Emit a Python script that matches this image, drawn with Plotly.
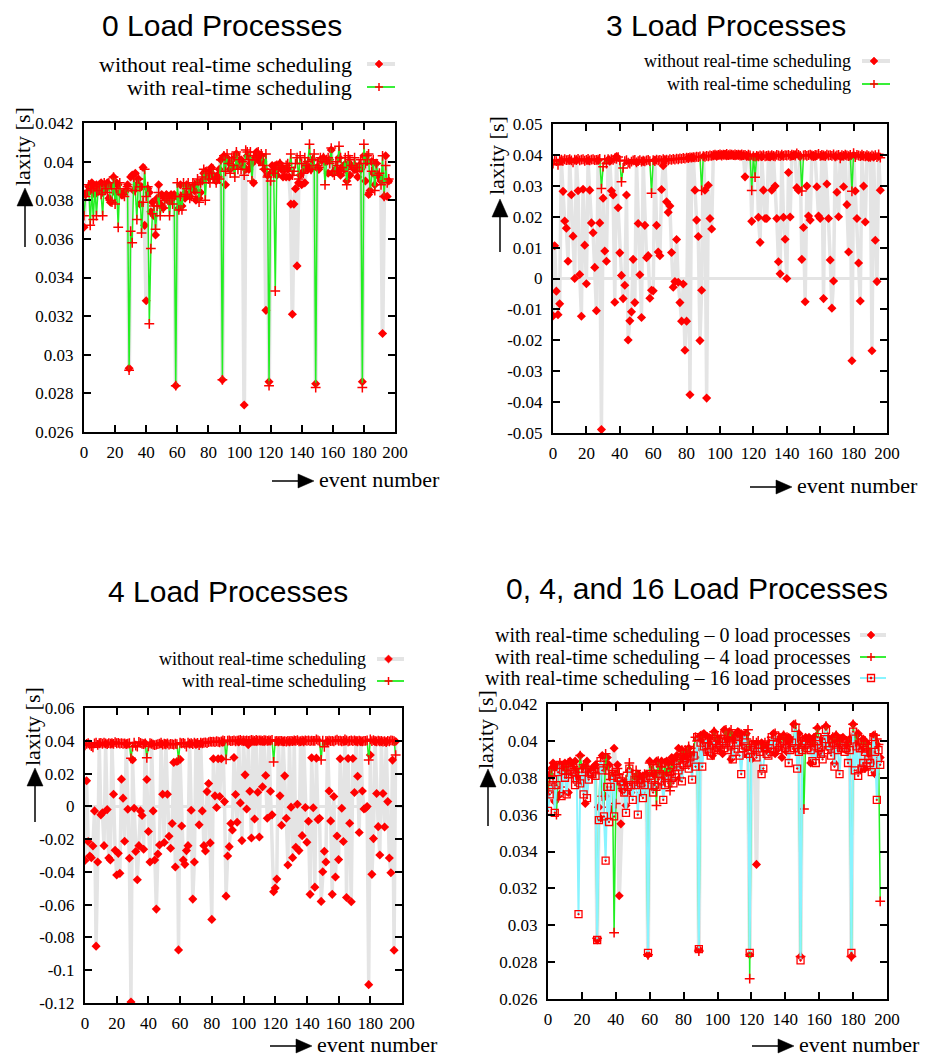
import plotly.graph_objects as go

# ---------------- data (laxity in milliseconds, event index 0..196) ----------------
events = list(range(197))

# Panel "0 Load Processes"
load0_without_rt = [
    36.6, 38.3, 38.4, 38.7, 38.5, 38.9, 38.6, 38.3, 38.8, 38.7,
    38.5, 38.9, 38.4, 38.8, 38.6, 38.9, 38.1, 37.9, 38.7, 39.2,
    38.4, 38.9, 38.8, 38.4, 38.3, 38.3, 38.4, 38.5, 38.8, 29.3,
    39.2, 39.3, 38.5, 39.4, 38.8, 39.1, 37.8, 38.7, 39.7, 36.7,
    32.8, 38.6, 38.4, 37.4, 37.9, 37.2, 36.2, 38.1, 38.8, 37.8,
    38.3, 37.6, 38.1, 38.3, 38.2, 37.9, 38.3, 38.1, 38.3, 28.4,
    38.2, 37.6, 38.8, 37.7, 38.3, 38.1, 38.8, 38.3, 38.2, 38.6,
    38.7, 38.5, 38.0, 38.9, 38.1, 38.4, 39.0, 39.4, 39.5, 39.2,
    39.3, 39.5, 39.7, 39.3, 39.2, 39.0, 39.3, 39.6, 40.1, 28.7,
    40.3, 38.8, 40.2, 40.0, 39.6, 39.8, 39.7, 40.2, 40.4, 39.8,
    39.9, 40.1, 39.8, 27.4, 39.6, 40.3, 39.6, 39.9, 39.9, 38.9,
    40.2, 40.5, 40.2, 40.0, 40.3, 40.0, 39.6, 32.3, 39.3, 28.6,
    39.4, 39.8, 39.5, 39.8, 39.3, 39.8, 39.9, 39.6, 39.2, 39.6,
    39.2, 39.6, 39.2, 37.8, 32.1, 37.8, 38.6, 34.6, 38.9, 39.3,
    38.8, 39.5, 38.9, 39.8, 39.6, 39.7, 39.6, 40.1, 39.7, 28.5,
    39.7, 39.6, 40.1, 40.1, 40.2, 40.0, 40.0, 39.4, 40.1, 40.6,
    39.4, 39.5, 39.6, 39.5, 40.2, 39.3, 39.7, 39.8, 39.6, 39.0,
    39.9, 39.3, 39.8, 39.7, 39.6, 39.6, 39.2, 39.8, 39.6, 28.6,
    40.3, 39.0, 40.0, 38.3, 38.5, 40.0, 39.4, 38.8, 39.9, 39.3,
    39.2, 39.0, 31.1, 38.2, 40.3, 38.2, 39.0,
]
load0_with_rt = [
    37.2, 38.2, 38.5, 38.8, 36.7, 38.6, 37.0, 38.7, 37.2, 38.5,
    38.8, 38.3, 37.2, 38.9, 38.6, 38.4, 38.9, 38.0, 37.9, 39.2,
    37.8, 38.6, 36.6, 38.9, 38.3, 38.3, 38.2, 38.6, 38.7, 29.2,
    36.4, 35.8, 39.2, 38.5, 37.0, 39.1, 38.7, 36.3, 37.9, 39.6,
    38.2, 38.7, 31.6, 35.5, 37.3, 37.7, 36.5, 37.7, 38.4, 37.2,
    37.7, 37.6, 38.0, 38.2, 38.1, 37.2, 38.1, 37.8, 38.2, 28.4,
    38.9, 37.5, 38.2, 37.5, 38.9, 38.3, 38.6, 38.9, 38.1, 38.2,
    38.9, 38.8, 38.4, 39.1, 37.9, 38.9, 39.2, 39.6, 38.0, 39.5,
    39.1, 38.9, 39.4, 39.6, 39.1, 38.9, 39.2, 39.1, 40.1, 28.7,
    40.3, 39.5, 40.4, 39.9, 39.4, 40.2, 39.8, 39.2, 40.5, 39.6,
    40.1, 39.6, 40.0, 39.3, 40.6, 40.5, 40.1, 40.5, 39.0, 40.3,
    40.1, 40.2, 40.5, 40.3, 40.4, 39.8, 39.6, 40.4, 39.2, 28.4,
    39.0, 39.6, 39.4, 33.3, 39.8, 39.6, 39.9, 39.7, 39.6, 39.5,
    39.8, 39.9, 39.7, 40.4, 39.3, 39.5, 39.9, 40.2, 39.1, 40.3,
    39.9, 39.4, 40.2, 39.8, 40.0, 40.9, 39.6, 40.1, 40.4, 28.3,
    39.8, 39.7, 40.2, 40.0, 40.2, 38.8, 40.1, 40.2, 39.9, 40.7,
    39.5, 39.3, 40.0, 39.8, 40.8, 40.2, 39.7, 39.5, 40.2, 38.8,
    40.3, 40.1, 39.8, 39.6, 40.2, 39.7, 39.5, 39.9, 40.1, 28.3,
    40.9, 39.9, 40.3, 40.4, 38.4, 39.5, 40.1, 38.5, 39.9, 39.3,
    39.4, 38.8, 40.3, 38.2, 39.8, 38.9, 39.1,
]

# Panel "3 Load Processes"
load3_without_rt = [
    -12.1, 10.6, -4.1, -11.7, -8.2, 38.1, 28.2, 18.6, 16.3, 5.6,
    38.2, 27.1, 13.7, 0.0, 38.3, 28.4, 1.3, -12.2, 28.9, 10.8,
    -1.7, 38.1, 28.6, 18.0, 14.8, 3.6, -10.4, 38.2, 18.0, -48.9,
    26.0, 8.9, 5.6, 38.4, 38.0, 28.4, 27.0, -7.7, 39.5, 22.9,
    8.3, 1.0, -6.5, -2.2, 27.0, -19.9, -13.7, -10.8, 6.2, -7.8,
    37.6, 17.8, 1.2, -12.6, 38.0, 17.2, 6.7, 7.4, -6.4, -3.8,
    -4.0, 38.3, 17.2, 8.6, 7.4, 28.8, 36.5, 38.3, 24.8, 21.4,
    23.5, 8.4, -2.8, -1.0, 12.6, -1.2, -7.8, -13.8, -1.8, -23.2,
    -13.8, 39.0, -37.6, 39.2, 39.1, 28.6, 18.9, 13.6, -20.1, -3.8,
    39.5, 28.6, -38.7, 30.2, 19.4, 16.0, 39.7, 39.9, 39.6, 40.0,
    39.8, 40.1, 39.9, 40.2, 39.7, 40.0, 39.8, 40.1, 39.9, 39.7,
    40.0, 39.8, 40.1, 39.6, 39.9, 32.9, 39.7, 39.5, 39.4, 18.5,
    39.5, 39.2, 39.6, 19.8, 11.7, 39.4, 28.6, 19.4, 19.4, 39.5,
    39.3, 28.6, 39.6, 29.9, 19.4, 5.4, 1.5, 39.7, 19.8, 12.7,
    0.0, 34.3, 19.9, 39.6, 39.8, 40.0, 29.4, 28.6, 39.5, 6.2,
    16.5, -7.5, 29.9, 20.2, 18.9, 39.7, 39.8, 39.5, 29.7, 20.2,
    19.4, 39.6, -6.5, 39.7, 30.6, 19.4, 6.0, -9.6, -0.8, 39.4,
    27.9, 20.0, 39.6, 39.5, 29.7, 39.8, 23.9, 8.6, 39.4, -26.6,
    39.9, 28.3, 19.4, 5.0, -7.3, 39.6, 29.9, 18.3, 39.5, 39.2,
    39.4, -23.4, 39.3, 12.4, -1.0, 39.5, 28.6,
]
load3_with_rt = [
    37.2, 38.3, 38.0, 36.8, 38.2, 38.5, 38.1, 38.6, 38.3, 38.4,
    38.6, 38.2, 37.6, 38.5, 38.3, 38.7, 38.2, 38.5, 38.6, 38.1,
    38.4, 38.7, 38.2, 38.5, 38.6, 38.3, 38.4, 38.5, 38.7, 29.1,
    36.2, 38.5, 37.2, 38.6, 38.2, 38.6, 38.4, 38.9, 38.7, 39.3,
    38.2, 31.3, 35.8, 38.0, 38.3, 37.5, 37.2, 37.8, 38.2, 38.4,
    37.6, 38.0, 38.3, 37.8, 38.1, 37.9, 38.2, 38.4, 38.0, 27.6,
    38.3, 38.0, 38.5, 38.2, 38.4, 38.1, 38.6, 38.3, 38.5, 38.2,
    38.6, 38.4, 38.7, 38.5, 38.8, 38.6, 38.9, 38.7, 39.0, 38.8,
    39.1, 39.0, 39.2, 39.1, 39.3, 39.2, 39.4, 39.3, 39.5, 28.5,
    39.6, 39.4, 39.7, 39.5, 39.8, 39.7, 39.9, 40.1, 39.8, 40.0,
    40.2, 39.8, 40.1, 40.0, 40.3, 39.9, 40.2, 40.1, 39.9, 40.2,
    40.0, 40.1, 39.8, 40.2, 39.9, 40.0, 39.7, 40.1, 39.8, 28.5,
    39.6, 32.8, 39.7, 39.5, 39.8, 39.6, 39.9, 39.5, 39.7, 39.8,
    39.6, 39.9, 39.7, 39.5, 40.0, 39.8, 39.6, 40.1, 39.7, 39.9,
    39.8, 40.0, 39.7, 40.1, 39.9, 39.8, 40.5, 40.0, 39.7, 28.3,
    39.8, 40.0, 39.7, 39.9, 40.1, 39.8, 39.6, 40.0, 39.9, 40.3,
    39.7, 40.0, 39.8, 39.6, 40.1, 39.8, 39.9, 39.7, 40.2, 39.5,
    39.8, 40.0, 38.9, 39.9, 39.7, 40.1, 39.8, 39.6, 40.0, 28.2,
    40.6, 39.3, 40.0, 39.8, 39.6, 40.1, 39.7, 39.5, 39.9, 39.6,
    39.4, 39.8, 39.5, 39.9, 39.3, 40.2, 39.1,
]

# Panel "4 Load Processes"
load4_without_rt = [
    -33.0, 15.6, -21.5, -30.3, -31.3, -24.2, -2.8, -85.3, -34.0, 38.0,
    -5.2, -4.0, -24.0, 38.2, -2.0, -31.5, -32.7, 38.3, 7.4, -26.8,
    -41.9, -28.7, -40.9, 16.6, 5.0, -21.3, 38.1, -1.8, -31.7, -119.4,
    28.4, -1.2, -27.6, -44.8, -24.0, -2.8, -5.6, -26.2, 38.5, 16.4,
    -15.4, -34.0, 38.2, -2.8, -32.7, -62.7, -29.1, -23.6, 38.0, 7.4,
    -22.1, 38.3, 7.4, -18.3, -25.6, -10.5, 26.8, -37.0, 27.4, -87.6,
    28.6, -12.0, -32.7, -35.4, -27.0, -24.0, 38.2, -2.4, -56.6, -34.0,
    38.1, 38.3, -11.3, 38.4, -2.8, -24.0, -27.2, 9.0, 13.9, -22.3,
    -69.0, 29.0, 6.4, -0.7, 29.0, 6.0, 29.0, 39.0, 2.9, -54.8,
    -30.3, -24.6, -10.5, -14.4, 29.8, 7.2, -9.7, 39.3, 2.1, -20.9,
    39.5, 19.2, -1.6, 37.6, 9.2, -19.3, 39.6, -7.7, 39.5, 8.6,
    -18.7, 39.8, 11.9, 39.4, 18.8, -7.3, 39.7, 9.2, -5.2, -52.1,
    -49.9, -44.4, 39.6, 6.4, -11.5, 39.5, 18.6, -7.3, -35.8, 39.4,
    -0.5, -31.3, 39.8, -25.0, 1.3, -27.0, 39.5, -17.9, 39.7, -0.7,
    -21.9, -9.1, -53.7, 29.6, -0.9, -49.3, 29.4, -8.1, -7.3, -58.0,
    -39.9, -27.4, -34.0, 39.5, 9.4, -8.9, -53.7, 6.0, -43.1, -18.1,
    -32.5, 29.0, -1.2, -21.5, 39.6, -55.6, 29.2, -10.3, -58.2, 29.2,
    8.4, 39.7, 18.4, -16.0, 39.5, 9.4, -1.6, -1.2, -0.1, -108.8,
    31.3, -41.5, -19.7, 39.6, 7.8, -12.4, -29.7, 39.5, 7.8, -12.6,
    39.4, 2.9, -31.5, -40.5, 28.2, -87.8, 39.6,
]
load4_with_rt = [
    37.2, 38.1, 38.5, 37.6, 36.8, 36.0, 38.4, 38.8, 37.5, 38.6,
    38.7, 38.2, 38.8, 38.4, 38.0, 38.6, 38.3, 38.5, 38.1, 39.2,
    38.5, 38.7, 38.3, 38.6, 38.2, 38.4, 38.0, 38.3, 38.5, 29.3,
    36.4, 38.9, 37.0, 36.4, 39.3, 38.7, 38.2, 37.9, 38.4, 29.6,
    36.6, 38.5, 38.2, 37.7, 37.4, 37.6, 37.9, 38.3, 38.8, 37.6,
    38.2, 37.8, 38.4, 37.7, 38.1, 38.0, 37.6, 38.2, 37.9, 28.4,
    38.8, 38.4, 38.7, 38.2, 36.5, 38.9, 38.3, 38.6, 37.9, 38.8,
    38.2, 38.7, 37.3, 38.9, 38.5, 38.8, 39.0, 38.6, 39.2, 39.5,
    39.3, 39.5, 39.2, 39.7, 39.4, 39.1, 39.6, 40.2, 40.0, 28.6,
    40.1, 40.3, 39.8, 40.0, 40.2, 39.7, 40.1, 40.3, 40.5, 39.9,
    40.2, 40.0, 40.3, 39.9, 40.1, 40.6, 40.2, 40.0, 40.6, 40.1,
    40.2, 40.3, 39.9, 40.4, 40.2, 40.0, 40.3, 40.1, 40.6, 27.1,
    39.8, 40.0, 39.7, 39.9, 40.0, 39.6, 39.8, 39.5, 39.9, 39.7,
    40.0, 39.8, 40.2, 39.9, 40.4, 39.6, 39.8, 40.1, 39.7, 40.3,
    39.9, 40.2, 39.8, 40.1, 39.9, 40.0, 40.9, 40.2, 39.8, 28.3,
    40.1, 36.3, 40.0, 39.7, 40.1, 39.8, 40.0, 39.6, 40.2, 40.7,
    39.9, 40.1, 39.7, 40.0, 40.8, 40.2, 39.6, 39.9, 40.2, 39.8,
    40.3, 40.0, 39.7, 40.1, 39.8, 39.6, 40.0, 39.9, 40.2, 28.3,
    40.9, 39.8, 40.4, 40.0, 39.6, 40.1, 39.7, 40.0, 39.5, 39.8,
    39.2, 39.9, 39.6, 40.3, 40.1, 39.8, 31.3,
]

# Panel "0, 4, and 16 Load Processes" (0 and 4 load reuse the series above)
load16_with_rt = [
    36.2, 37.1, 37.6, 37.9, 36.1, 37.6, 38.3, 38.7, 37.0, 38.4,
    38.0, 37.1, 38.2, 38.6, 38.4, 38.3, 37.6, 37.9, 30.6, 37.7,
    38.3, 37.1, 38.5, 36.9, 37.9, 38.3, 38.2, 38.4, 38.1, 29.2,
    35.7, 38.9, 38.4, 35.9, 33.5, 37.5, 35.6, 37.5, 38.1, 35.9,
    38.3, 38.0, 38.0, 37.8, 37.6, 37.2, 36.1, 37.5, 38.5, 37.6,
    36.8, 37.9, 37.6, 36.0, 37.9, 37.7, 36.9, 37.6, 38.0, 28.5,
    38.1, 37.9, 37.2, 37.6, 37.5, 37.9, 38.2, 37.8, 36.8, 37.6,
    38.1, 37.7, 38.3, 38.0, 37.7, 38.2, 38.9, 38.4, 38.6, 37.8,
    38.7, 39.0, 38.8, 38.5, 39.1, 37.9, 39.2, 38.6, 40.2, 28.7,
    39.9, 38.6, 39.7, 40.1, 39.4, 39.7, 39.2, 39.8, 40.0, 39.5,
    39.6, 39.8, 39.5, 40.1, 39.6, 39.9, 39.5, 39.8, 39.7, 39.0,
    39.4, 39.9, 40.2, 39.2, 38.2, 39.6, 40.3, 39.7, 39.3, 28.5,
    39.5, 39.8, 39.6, 39.1, 39.8, 39.4, 38.2, 38.5, 39.6, 39.3,
    39.2, 39.6, 40.2, 39.4, 40.3, 39.8, 39.5, 39.9, 39.7, 40.0,
    39.6, 39.8, 38.8, 39.5, 39.9, 39.6, 40.7, 38.5, 39.4, 28.1,
    39.5, 40.0, 39.8, 39.6, 39.9, 39.5, 38.9, 39.7, 38.8, 40.2,
    39.6, 39.3, 39.0, 40.1, 40.6, 39.5, 39.7, 39.2, 39.9, 38.6,
    39.8, 39.5, 38.2, 39.6, 39.9, 39.4, 39.6, 38.8, 39.5, 28.5,
    40.5, 38.4, 39.7, 38.1, 39.6, 38.5, 38.8, 39.4, 38.6, 39.0,
    38.8, 38.3, 40.2, 39.4, 36.8, 39.5, 38.7,
]

# tick labels
x_tick_labels = ["0", "20", "40", "60", "80", "100", "120", "140", "160", "180", "200"]
y_ticks_small = ["0.026", "0.028", "0.03", "0.032", "0.034", "0.036", "0.038", "0.04", "0.042"]
y_ticks_3load = ["-0.05", "-0.04", "-0.03", "-0.02", "-0.01", "0", "0.01", "0.02", "0.03", "0.04", "0.05"]
y_ticks_4load = ["-0.12", "-0.1", "-0.08", "-0.06", "-0.04", "-0.02", "0", "0.02", "0.04", "0.06"]

titles = ["0 Load Processes", "3 Load Processes", "4 Load Processes", "0, 4, and 16 Load Processes"]
legend_2 = ["without real-time scheduling", "with real-time scheduling"]
legend_4 = ["with real-time scheduling – 0 load processes",
            "with real-time scheduling – 4 load processes",
            "with real-time scheduling – 16 load processes"]

# ---------------- style ----------------
W, H = 932, 1059
RED = "#ff0000"
GRAY = "#e4e4e4"
GREEN = "#22ee22"
CYAN = "#88f4ff"
SERIF = "Liberation Serif, Times New Roman, Times, serif"
SANS = "Liberation Sans, Arial, Helvetica, sans-serif"

def fx(p):
    return p / W

def fy(p):
    return 1 - p / H

fig = go.Figure()

def to_s(vals):
    return [v / 1000.0 for v in vals]

MK = {
    "diamond": dict(symbol="diamond", size=7, color=RED, line=dict(width=0)),
    "plus": dict(symbol="cross-thin", size=7, color=RED, line=dict(color=RED, width=1.5)),
    "square": dict(symbol="square-open-dot", size=7, color=RED, line=dict(color=RED, width=1.3)),
}

def series(ax, vals, color, width, mk):
    fig.add_trace(go.Scatter(
        x=events[:len(vals)], y=to_s(vals), mode="lines+markers",
        xaxis="x" + ax, yaxis="y" + ax,
        line=dict(color=color, width=width), marker=MK[mk],
        showlegend=False, hoverinfo="skip"))

series("", load0_without_rt, GRAY, 4, "diamond")
series("", load0_with_rt, GREEN, 1.5, "plus")
series("2", load3_without_rt, GRAY, 3.5, "diamond")
series("2", load3_with_rt, GREEN, 1.5, "plus")
series("3", load4_without_rt, GRAY, 3.5, "diamond")
series("3", load4_with_rt, GREEN, 1.5, "plus")
series("4", load0_with_rt, GRAY, 4, "diamond")
series("4", load4_with_rt, GREEN, 1.5, "plus")
series("4", load16_with_rt, CYAN, 2, "square")

# panel rectangles (left, right, top, bottom) in pixels
boxes = {
    "": (84, 395, 123, 432),
    "2": (553, 887, 124, 433),
    "3": (85, 402, 708, 1003),
    "4": (548, 887, 704, 999),
}
ylabels = {"": y_ticks_small, "2": y_ticks_3load, "3": y_ticks_4load, "4": y_ticks_small}

axis_common = dict(showline=True, linewidth=2, linecolor="black", mirror="allticks",
                   ticks="inside", ticklen=7, tickwidth=2, tickcolor="black",
                   showgrid=False, fixedrange=True, automargin=False,
                   tickfont=dict(family=SERIF, size=17, color="black"))
layout = {}
for ax, (l, r, t, b) in boxes.items():
    xt = [float(s) for s in x_tick_labels]
    yl = ylabels[ax]
    yt = [float(s) for s in yl]
    has_zero = yt[0] < 0 < yt[-1]
    layout["xaxis" + ax] = dict(domain=[fx(l), fx(r)], anchor="y" + ax, range=[0, 200],
                                tickvals=xt, ticktext=x_tick_labels, zeroline=False,
                                ticklabelstandoff=4, **axis_common)
    layout["yaxis" + ax] = dict(domain=[fy(b), fy(t)], anchor="x" + ax, range=[yt[0], yt[-1]],
                                tickvals=yt, ticktext=yl, zeroline=has_zero,
                                zerolinecolor=GRAY, zerolinewidth=3,
                                ticklabelstandoff=5, **axis_common)

annotations = []
shapes = []

def text(x, y, s, size, family=SERIF, xanchor="center", angle=0):
    annotations.append(dict(x=fx(x), y=fy(y), xref="paper", yref="paper", text=s, showarrow=False,
                            xanchor=xanchor, yanchor="middle", textangle=angle,
                            font=dict(family=family, size=size, color="black")))

def pline(x0, y0, x1, y1, color, width):
    shapes.append(dict(type="line", xref="paper", yref="paper", x0=fx(x0), y0=fy(y0),
                       x1=fx(x1), y1=fy(y1), line=dict(color=color, width=width)))

def ppath(pts, color):
    d = "M " + " L ".join(f"{fx(a):.5f},{fy(b):.5f}" for a, b in pts) + " Z"
    shapes.append(dict(type="path", xref="paper", yref="paper", path=d,
                       fillcolor=color, line=dict(color=color, width=0.5)))

# titles
text(222, 25, titles[0], 30, SANS)
text(726, 25, titles[1], 30, SANS)
text(228, 591, titles[2], 30, SANS)
text(697, 588, titles[3], 30, SANS)

# legend keys (sample line plus point symbol)
def key(x1, x2, y, color, width, mk):
    pline(x1, y, x2, y, color, width)
    cx = (x1 + x2) / 2 - 2
    if mk == "diamond":
        ppath([(cx, y - 4), (cx + 4, y), (cx, y + 4), (cx - 4, y)], RED)
    elif mk == "plus":
        pline(cx - 4, y, cx + 4, y, RED, 1.5)
        pline(cx, y - 4, cx, y + 4, RED, 1.5)
    else:
        shapes.append(dict(type="rect", xref="paper", yref="paper", x0=fx(cx - 3.5), x1=fx(cx + 3.5),
                           y0=fy(y + 3.5), y1=fy(y - 3.5), line=dict(color=RED, width=1.3)))
        ppath([(cx - 1, y - 1), (cx + 1, y - 1), (cx + 1, y + 1), (cx - 1, y + 1)], RED)

text(354, 64, legend_2[0], 22, xanchor="right")
text(354, 87, legend_2[1], 22, xanchor="right")
key(367, 395, 64, GRAY, 4, "diamond")
key(367, 395, 87, GREEN, 1.8, "plus")

text(853, 61, legend_2[0], 18, xanchor="right")
text(853, 84, legend_2[1], 18, xanchor="right")
key(862, 890, 61, GRAY, 4, "diamond")
key(862, 890, 84, GREEN, 1.8, "plus")

text(368, 659, legend_2[0], 18, xanchor="right")
text(368, 681, legend_2[1], 18, xanchor="right")
key(377, 404, 659, GRAY, 4, "diamond")
key(377, 404, 681, GREEN, 1.8, "plus")

text(853, 635, legend_4[0], 20, xanchor="right")
text(853, 657, legend_4[1], 20, xanchor="right")
text(853, 678, legend_4[2], 20, xanchor="right")
key(860, 886, 635, GRAY, 4, "diamond")
key(860, 886, 657, GREEN, 1.8, "plus")
key(860, 886, 678, CYAN, 2, "square")

# axis labels with arrows
def up_label(x, y_text, tip, bottom):
    text(x - 3, y_text, "laxity [s]", 22, angle=-90)
    pline(x, bottom, x, tip + 14, "black", 1.5)
    ppath([(x, tip), (x - 8, tip + 18), (x + 8, tip + 18)], "black")

def right_label(x0, y):
    tip = x0 + 42
    pline(x0, y, tip - 14, y, "black", 1.5)
    ppath([(tip, y), (tip - 16, y - 7), (tip - 16, y + 7)], "black")
    text(tip + 3, y - 2, "event number", 22, xanchor="left")

up_label(25, 147, 188, 247)
up_label(500, 155, 199, 252)
up_label(35, 727, 768, 822)
up_label(488, 730, 769, 826)

right_label(272, 481)
right_label(750, 487)
right_label(270, 1046)
right_label(752, 1046)

fig.update_layout(
    width=W, height=H, margin=dict(l=0, r=0, t=0, b=0, pad=0, autoexpand=False),
    paper_bgcolor="white", plot_bgcolor="rgba(0,0,0,0)",
    showlegend=False, annotations=annotations, shapes=shapes,
    **layout,
)

post = ("document.body.style.margin='0';document.body.style.overflow='hidden';"
        "var d=document.getElementById('{plot_id}');d.style.position='absolute';"
        "d.style.left='0px';d.style.top='0px';")
fig.write_html("out.html", post_script=post, config={"displayModeBar": False})
